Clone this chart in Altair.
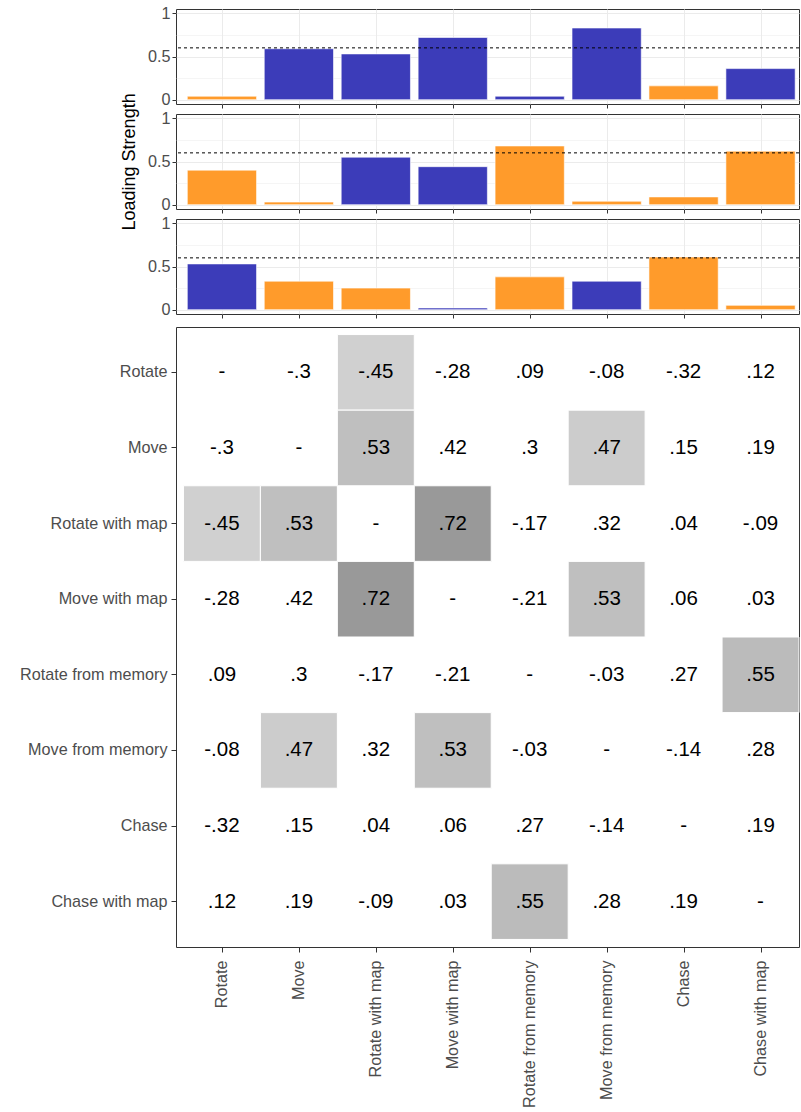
import json
import altair as alt
import pandas as pd

# ---------------- data ----------------
categories = ["Rotate", "Move", "Rotate with map", "Move with map",
              "Rotate from memory", "Move from memory", "Chase", "Chase with map"]

factor1 = [0.04, 0.59, 0.53, 0.72, 0.04, 0.83, 0.16, 0.36]
factor1_sign = ["neg", "pos", "pos", "pos", "pos", "pos", "neg", "pos"]
factor2 = [0.40, 0.03, 0.55, 0.44, 0.68, 0.04, 0.09, 0.62]
factor2_sign = ["neg", "neg", "pos", "pos", "neg", "neg", "neg", "neg"]
factor3 = [0.53, 0.33, 0.25, 0.02, 0.38, 0.33, 0.61, 0.05]
factor3_sign = ["pos", "neg", "neg", "pos", "neg", "pos", "neg", "neg"]

threshold = [0.6]

corr_rotate = [None, -0.3, -0.45, -0.28, 0.09, -0.08, -0.32, 0.12]
corr_move = [-0.3, None, 0.53, 0.42, 0.3, 0.47, 0.15, 0.19]
corr_rotate_map = [-0.45, 0.53, None, 0.72, -0.17, 0.32, 0.04, -0.09]
corr_move_map = [-0.28, 0.42, 0.72, None, -0.21, 0.53, 0.06, 0.03]
corr_rotate_mem = [0.09, 0.3, -0.17, -0.21, None, -0.03, 0.27, 0.55]
corr_move_mem = [-0.08, 0.47, 0.32, 0.53, -0.03, None, -0.14, 0.28]
corr_chase = [-0.32, 0.15, 0.04, 0.06, 0.27, -0.14, None, 0.19]
corr_chase_map = [0.12, 0.19, -0.09, 0.03, 0.55, 0.28, 0.19, None]
corr = [corr_rotate, corr_move, corr_rotate_map, corr_move_map,
        corr_rotate_mem, corr_move_mem, corr_chase, corr_chase_map]

shade_cut = 0.45

# ---------------- style ----------------
FONT = "Liberation Sans"
BLUE = "#3c3cb9"
ORANGE = "#ff9b2b"
LABEL_COLOR = "#4d4d4d"
FRAME = "#333333"
GRID = "#ebebeb"
W = 623
idx = list(range(len(categories)))
x_scale = alt.Scale(domain=[-0.597, 7.5], nice=False, zero=False)
names_js = json.dumps(categories).replace('"', "'")


def bar_axis_x():
    return alt.Axis(values=idx, labels=False, ticks=True, tickSize=4,
                    tickColor=FRAME, domain=False, grid=True, gridColor=GRID,
                    title=None)


def bar_axis_y():
    return alt.Axis(values=[0, 0.25, 0.5, 0.75, 1],
                    labelExpr="datum.value == 0 ? '0' : datum.value == 0.5 ? '0.5' : datum.value == 1 ? '1' : ''",
                    tickOpacity={"condition": {"test": "datum.value == 0.25 || datum.value == 0.75", "value": 0}, "value": 1},
                    gridWidth={"condition": {"test": "datum.value == 0.25 || datum.value == 0.75", "value": 0.5}, "value": 1},
                    tickSize=4, tickColor=FRAME, domain=False, grid=True, gridColor=GRID,
                    labelPadding=2, title=None)


def bar_panel(vals, signs):
    df = pd.DataFrame({"idx": idx, "cat": categories, "v": vals, "sign": signs})
    yscale = alt.Scale(domain=[-0.05, 1.05], nice=False, zero=False)
    bars = alt.Chart(df).transform_calculate(
        xa="datum.idx - 0.45", xb="datum.idx + 0.45"
    ).mark_rect(stroke="white", strokeWidth=0.6).encode(
        x=alt.X("xa:Q", scale=x_scale, axis=bar_axis_x()),
        x2="xb:Q",
        y=alt.Y("v:Q", scale=yscale, axis=bar_axis_y()),
        y2=alt.datum(0),
        color=alt.Color("sign:N", scale=alt.Scale(domain=["pos", "neg"], range=[BLUE, ORANGE]), legend=None),
    )
    rule = alt.Chart(pd.DataFrame({"t": threshold})).mark_rule(
        color="black", strokeDash=[3, 3], strokeWidth=1
    ).encode(y=alt.Y("t:Q", scale=yscale, axis=bar_axis_y()))
    return alt.layer(bars, rule).properties(width=W, height=95)


p1 = bar_panel(factor1, factor1_sign)
p2 = bar_panel(factor2, factor2_sign)
p3 = bar_panel(factor3, factor3_sign)

# heatmap
rows = []
for i, rname in enumerate(categories):
    for j, cname in enumerate(categories):
        rows.append({"row": rname, "col": cname, "j": j, "r": corr[i][j]})
hdf = pd.DataFrame(rows)

hx_axis = alt.Axis(values=idx, labelExpr=f"{names_js}[datum.value]", labelAngle=270,
                   tickSize=5, tickColor=FRAME, domain=False, grid=False,
                   labelPadding=8, title=None)
hy = alt.Y("row:N", sort=categories, scale=alt.Scale(paddingInner=0, paddingOuter=0.1),
           axis=alt.Axis(tickSize=5, tickColor=FRAME, domain=False, grid=False,
                         labelPadding=4, title=None))

base = alt.Chart(hdf).transform_calculate(
    xa="datum.j - 0.5", xb="datum.j + 0.5",
    absr="isValid(datum.r) ? abs(datum.r) : 0",
    lab="isValid(datum.r) ? replace(toString(datum.r), '0.', '.') : '-'",
)
gray_tiles = base.transform_filter(f"datum.absr >= {shade_cut}").mark_rect(
    stroke="white", strokeWidth=1).encode(
    x=alt.X("xa:Q", scale=x_scale, axis=hx_axis), x2="xb:Q", y=hy,
    fill=alt.Color("absr:Q", scale=alt.Scale(domain=[0.45, 0.72], range=["#d0d0d0", "#999999"]), legend=None))
texts = base.mark_text(font=FONT, fontSize=20.5, color="black").encode(
    x=alt.X("j:Q", scale=x_scale, axis=hx_axis), y=hy, text="lab:N")
heat = alt.layer(gray_tiles, texts).properties(width=W, height=620)

bars_block = alt.vconcat(p1, p2, p3, spacing=0).properties(
    title=alt.TitleParams("Loading Strength", orient="left", anchor="middle",
                          fontSize=18, font=FONT, fontWeight="normal",
                          color="black", offset=8)
)
chart = alt.vconcat(bars_block, heat, spacing=7).properties(
    padding={"left": 18, "top": 4, "right": 0, "bottom": 2},
    background="white",
).configure_view(stroke=FRAME, strokeWidth=1).configure_axis(
    labelFont=FONT, labelFontSize=16.2, labelColor=LABEL_COLOR, titleFont=FONT
)

chart.save("out.html", embed_options={"renderer": "svg", "actions": False})
